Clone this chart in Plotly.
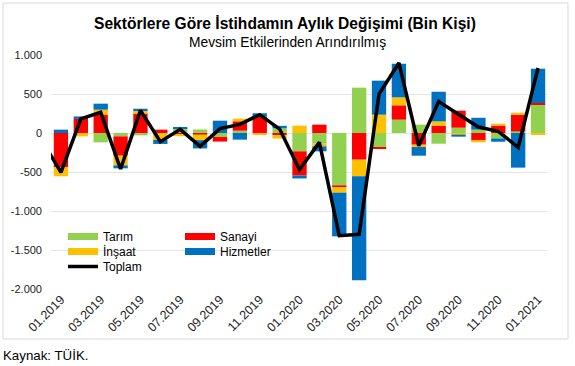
import plotly.graph_objects as go

# ---------------- data ----------------
months = ["01.2019", "02.2019", "03.2019", "04.2019", "05.2019", "06.2019",
          "07.2019", "08.2019", "09.2019", "10.2019", "11.2019", "12.2019",
          "01.2020", "02.2020", "03.2020", "04.2020", "05.2020", "06.2020",
          "07.2020", "08.2020", "09.2020", "10.2020", "11.2020", "12.2020",
          "01.2021"]
line_months = ["12.2018"] + months

tarim = [0, 0, -120, -43, -30, -10, 60, 45, -50, 30, 0, 60,
         -235, -137, -671, 581, -184, 171, 107, -137, 68, 43, -70, 21, 363]
sanayi = [-440, 180, 235, -248, 256, 43, -15, -20, -60, 120, 210, -28,
          -310, 107, -26, -342, -17, 184, -150, 94, 218, -98, 94, 213, 21]
insaat = [-115, -43, 64, -124, 25, -80, -25, -72, 0, 34, -21, -43,
          94, -34, -68, -214, 235, 102, -30, 55, -21, -21, 26, 26, -21]
hizmetler = [43, 32, 77, -38, 30, -50, 15, -106, 158, -85, 43, 32,
             -38, -64, -560, -1333, 436, 431, -111, 380, -26, 152, -42, -444, 440]
toplam = [-76, -504, 180, 265, -461, 290, -111, 47, -171, 56, 111, 235, 50,
          -470, -120, -1316, -1299, 500, 897, -165, 402, 243, 77, 21, -184, 833]

y_tickvals = [-2000, -1500, -1000, -500, 0, 500, 1000]
y_ticktext = ["-2.000", "-1.500", "-1.000", "-500", "0", "500", "1.000"]
x_ticklabels = months[::2]

# ---------------- layout helpers ----------------
W, H = 575, 366
L, R, T, B = 51, 27, 55, 77
PW, PH = W - L - R, H - T - B


def px(x):
    return (x - L) / PW


def py(y):
    return (H - B - y) / PH


FONT = "Liberation Sans, Arial, sans-serif"

series = [
    ("Tarım", tarim, "#92D050", "legend"),
    ("Sanayi", sanayi, "#FF0000", "legend"),
    ("İnşaat", insaat, "#FFC000", "legend2"),
    ("Hizmetler", hizmetler, "#0070C0", "legend2"),
]

fig = go.Figure()
for name, vals, color, leg in series:
    fig.add_trace(go.Bar(x=months, y=vals, name=name, showlegend=False,
                         marker=dict(color=color, line=dict(width=0))))
for name, vals, color, leg in series:
    fig.add_trace(go.Scatter(x=[None], y=[None], mode="lines", name=name,
                             line=dict(color=color, width=7), legend=leg))

fig.add_trace(go.Scatter(x=line_months, y=toplam, mode="lines", name="Toplam",
                         line=dict(color="black", width=3.5), legend="legend3"))

n_cat = len(line_months)
legend_common = dict(orientation="h", xanchor="left", yanchor="middle",
                     bgcolor="rgba(0,0,0,0)", font=dict(family=FONT, size=12, color="#000"),
                     entrywidth=72, entrywidthmode="pixels", itemwidth=30)

fig.update_layout(
    width=W, height=H,
    margin=dict(l=L, r=R, t=T, b=B, pad=0),
    paper_bgcolor="white", plot_bgcolor="white",
    barmode="relative", bargap=0.28,
    font=dict(family=FONT, size=11, color="#222"),
    xaxis=dict(type="category", categoryorder="array", categoryarray=line_months,
               range=[0.5, n_cat - 0.5], tickmode="array", tickvals=x_ticklabels,
               ticktext=x_ticklabels, tickangle=-45, showgrid=False, showline=False,
               zeroline=False, ticks="", tickfont=dict(size=12.5, color="#222"),
               automargin=False),
    xaxis2=dict(overlaying="x", anchor="free", position=2000 / 3000, side="bottom",
                range=[0.5, n_cat - 0.5], tickmode="array",
                tickvals=[i + 0.5 for i in range(2, n_cat - 1, 2)],
                ticks="outside", ticklen=4, tickcolor="#D9D9D9", showticklabels=False,
                showline=True, linecolor="#D9D9D9", linewidth=1, showgrid=False,
                zeroline=False, layer="below traces"),
    yaxis=dict(range=[-2000, 1000], tickmode="array", tickvals=y_tickvals,
               ticktext=y_ticktext, showgrid=True, gridcolor="#E6E6E6", gridwidth=1,
               zeroline=False, showline=False, ticks="", ticklabelstandoff=8,
               tickfont=dict(size=11, color="#222"), automargin=False),
    legend=dict(x=px(63), y=py(236.5), **legend_common),
    legend2=dict(x=px(63), y=py(251.5), **legend_common),
    legend3=dict(x=px(63), y=py(266.5), **legend_common),
    shapes=[dict(type="rect", xref="paper", yref="paper",
                 x0=px(3), x1=px(568), y0=py(339), y1=py(3),
                 line=dict(color="#D9D9D9", width=1), layer="below")],
    annotations=[
        dict(text="<b>Sektörlere Göre İstihdamın Aylık Değişimi (Bin Kişi)</b>",
             xref="paper", yref="paper", x=px(284.5), y=py(23), xanchor="center",
             yanchor="middle", showarrow=False, font=dict(family=FONT, size=15.6, color="#000")),
        dict(text="Mevsim Etkilerinden Arındırılmış",
             xref="paper", yref="paper", x=px(287), y=py(43), xanchor="center",
             yanchor="middle", showarrow=False, font=dict(family=FONT, size=13.8, color="#000")),
        dict(text="Kaynak: TÜİK.",
             xref="paper", yref="paper", x=px(1), y=py(355), xanchor="left",
             yanchor="middle", showarrow=False, font=dict(family=FONT, size=13.3, color="#000")),
    ],
)

fig.write_html("out.html", config={"displayModeBar": False},
               post_script="document.body.style.margin='0';")
